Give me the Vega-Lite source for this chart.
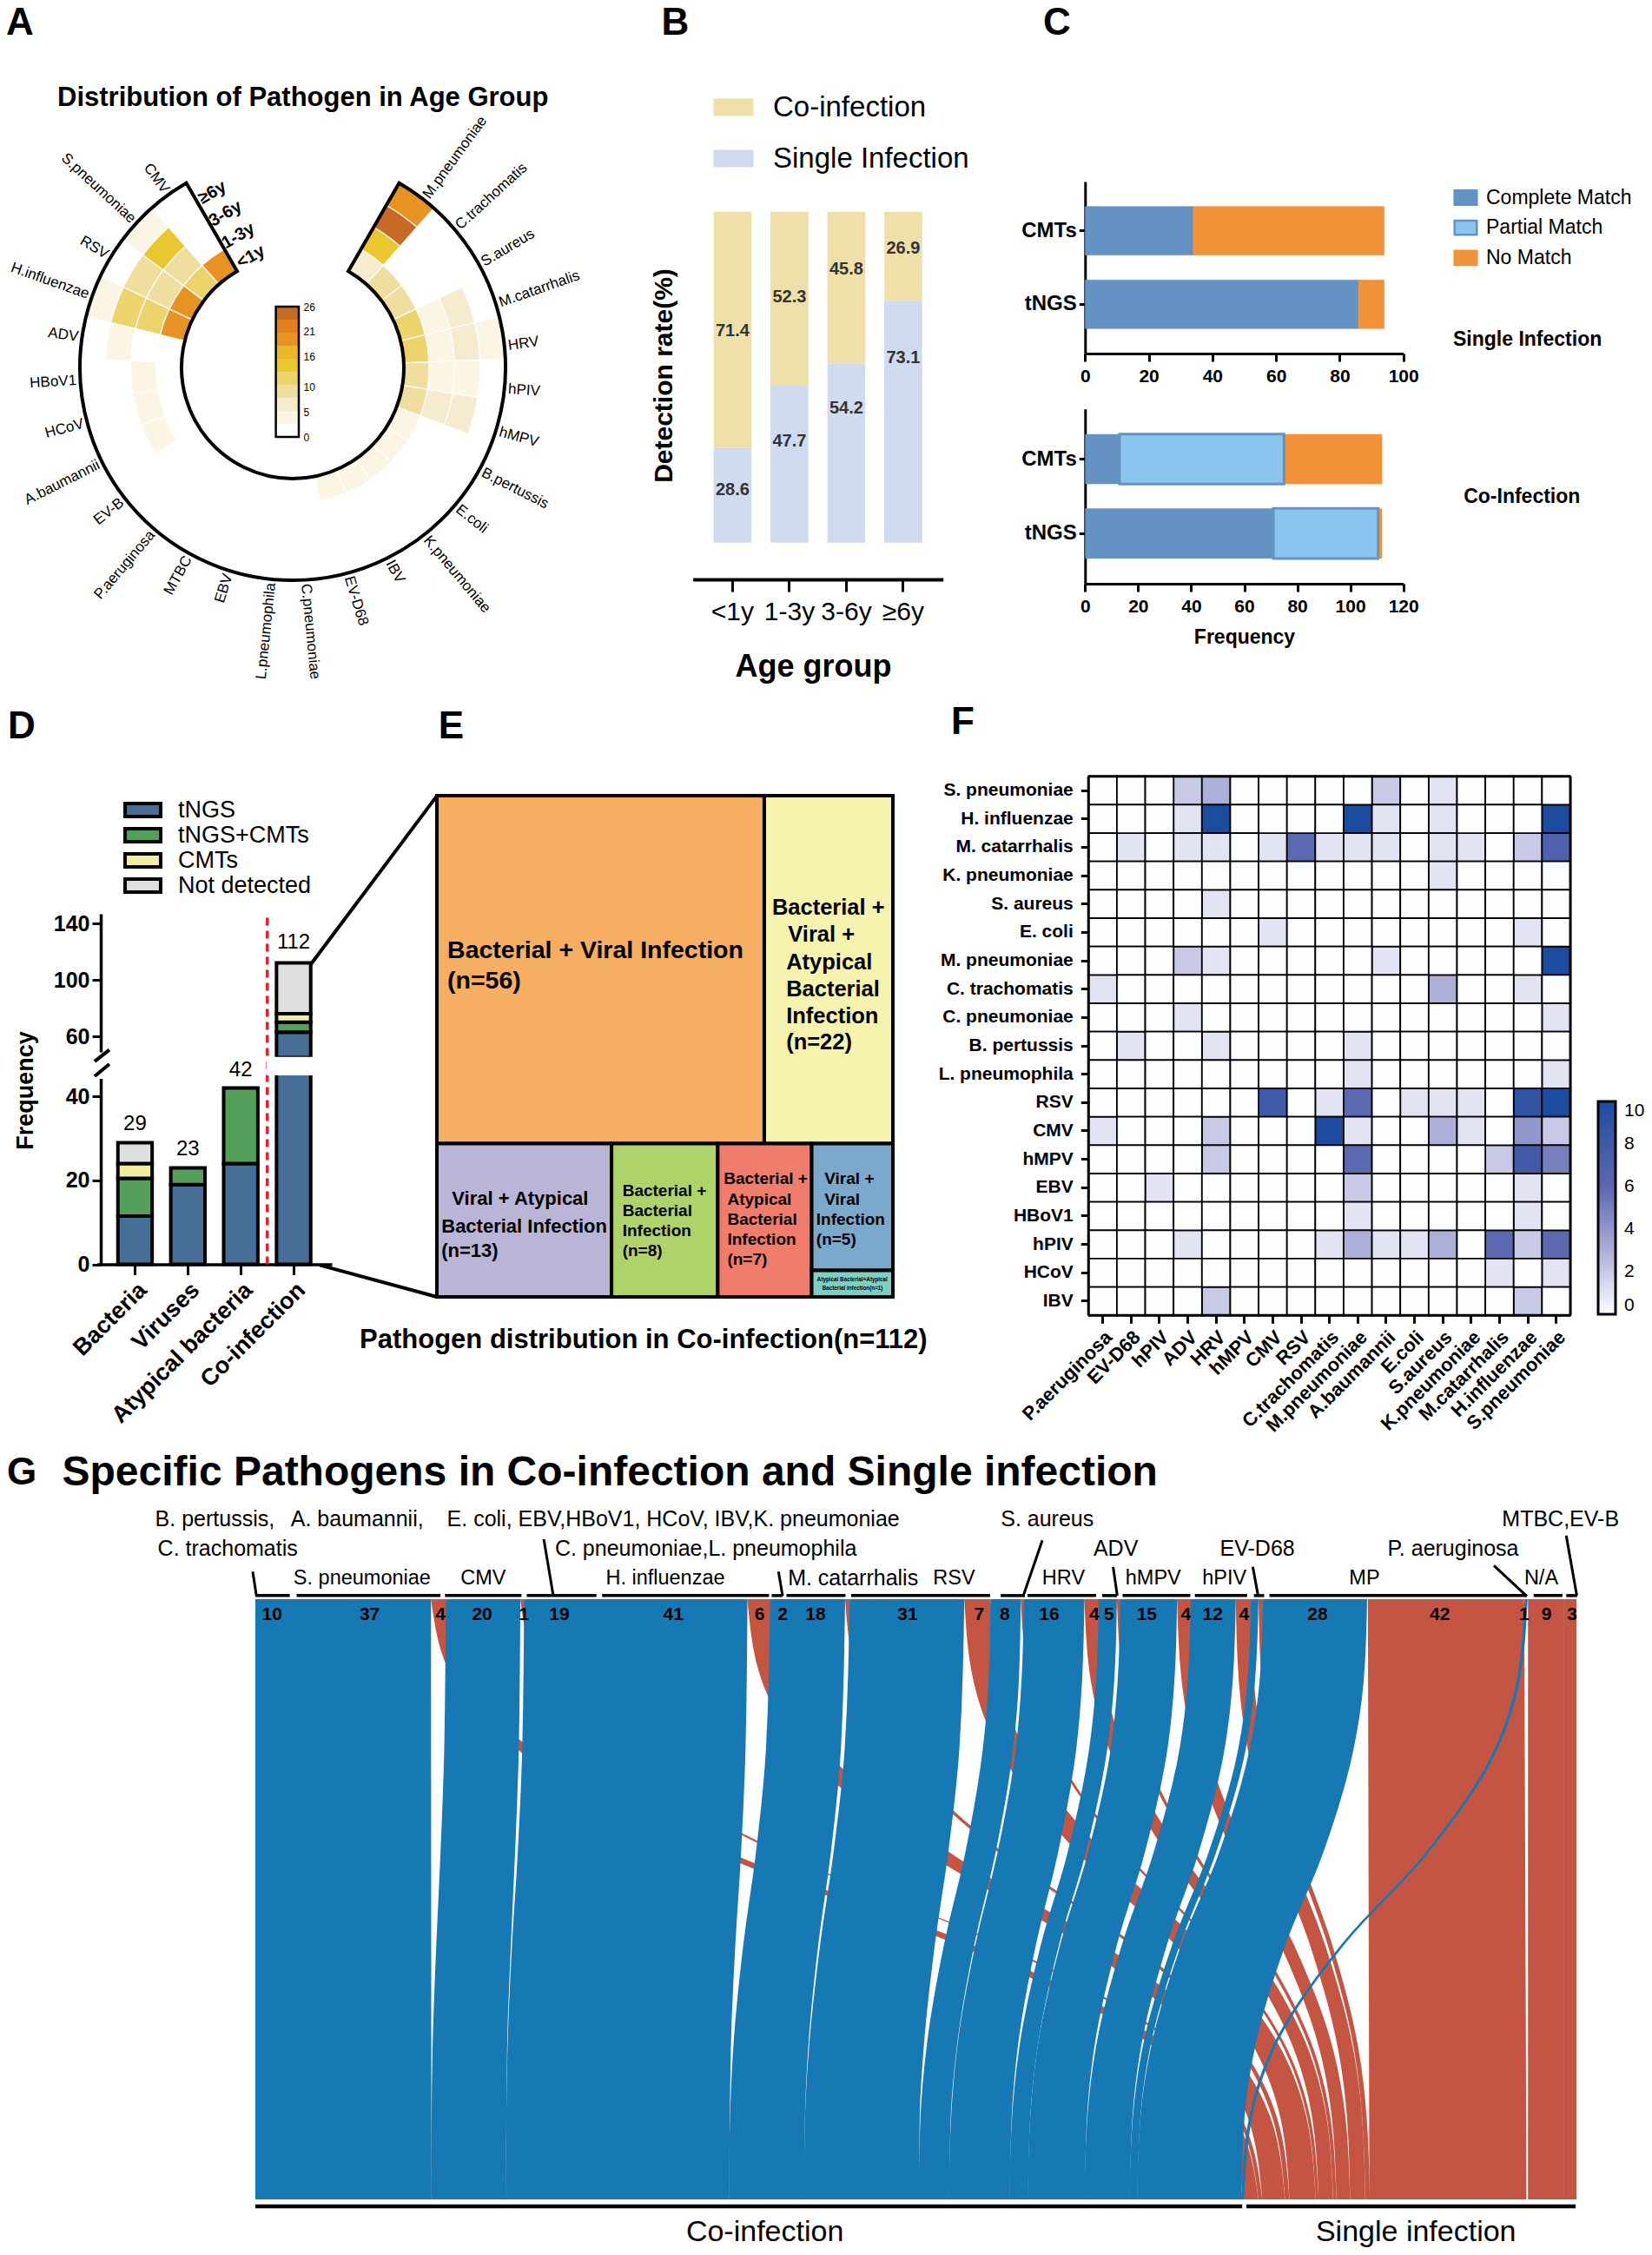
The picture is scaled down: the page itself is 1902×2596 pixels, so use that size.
{"$schema":"https://vega.github.io/schema/vega-lite/v6.json","width":1902,"height":2596,"padding":0,"autosize":{"type":"none"},"background":"white","config":{"font":"Liberation Sans","view":{"stroke":null},"axis":{"grid":false,"labelColor":"black","titleColor":"black","domainColor":"black","tickColor":"black","labelFlush":false,"labelLimit":500,"labelOverlap":false},"legend":{"labelColor":"black","labelLimit":500},"text":{"color":"black"}},
"resolve":{"scale":{"x":"independent","y":"independent","color":"independent","stroke":"independent"}},
"datasets":{
"sankey":[
{"f":"R1","g":"S","t":0,"x":46.4,"x2":50.3},{"f":"R1","g":"S","t":0.136,"x":52.4,"x2":56.3},{"f":"R1","g":"S","t":0.248,"x":68.7,"x2":72.6},{"f":"R1","g":"S","t":0.424,"x":122,"x2":125.9},{"f":"R1","g":"S","t":0.576,"x":185.5,"x2":189.4},{"f":"R1","g":"S","t":0.752,"x":238.8,"x2":242.7},{"f":"R1","g":"S","t":0.864,"x":255.1,"x2":259},{"f":"R1","g":"S","t":1,"x":261.1,"x2":265},
{"f":"R2","g":"S","t":0,"x":70,"x2":71},{"f":"R2","g":"S","t":0.136,"x":75.5,"x2":76.5},{"f":"R2","g":"S","t":0.248,"x":90.3,"x2":91.3},{"f":"R2","g":"S","t":0.424,"x":138.6,"x2":139.6},{"f":"R2","g":"S","t":0.576,"x":196.4,"x2":197.4},{"f":"R2","g":"S","t":0.752,"x":244.7,"x2":245.7},{"f":"R2","g":"S","t":0.864,"x":259.5,"x2":260.5},{"f":"R2","g":"S","t":1,"x":265,"x2":266},
{"f":"R3","g":"S","t":0,"x":130,"x2":136},{"f":"R3","g":"S","t":0.136,"x":133.8,"x2":139.8},{"f":"R3","g":"S","t":0.248,"x":144.1,"x2":150.1},{"f":"R3","g":"S","t":0.424,"x":177.9,"x2":183.9},{"f":"R3","g":"S","t":0.576,"x":218.1,"x2":224.1},{"f":"R3","g":"S","t":0.752,"x":251.9,"x2":257.9},{"f":"R3","g":"S","t":0.864,"x":262.2,"x2":268.2},{"f":"R3","g":"S","t":1,"x":266,"x2":272},
{"f":"R4","g":"S","t":0,"x":155.8,"x2":157},{"f":"R4","g":"S","t":0.136,"x":159.1,"x2":160.3},{"f":"R4","g":"S","t":0.248,"x":167.9,"x2":169.1},{"f":"R4","g":"S","t":0.424,"x":196.7,"x2":197.9},{"f":"R4","g":"S","t":0.576,"x":231.1,"x2":232.3},{"f":"R4","g":"S","t":0.752,"x":259.9,"x2":261.1},{"f":"R4","g":"S","t":0.864,"x":268.7,"x2":269.9},{"f":"R4","g":"S","t":1,"x":272,"x2":273.2},
{"f":"R5","g":"S","t":0,"x":187.3,"x2":194.2},{"f":"R5","g":"S","t":0.136,"x":189.7,"x2":196.6},{"f":"R5","g":"S","t":0.248,"x":196.2,"x2":203.1},{"f":"R5","g":"S","t":0.424,"x":217.5,"x2":224.4},{"f":"R5","g":"S","t":0.576,"x":243,"x2":249.9},{"f":"R5","g":"S","t":0.752,"x":264.3,"x2":271.2},{"f":"R5","g":"S","t":0.864,"x":270.8,"x2":277.7},{"f":"R5","g":"S","t":1,"x":273.2,"x2":280.1},
{"f":"R6","g":"S","t":0,"x":202.2,"x2":203},{"f":"R6","g":"S","t":0.136,"x":204.4,"x2":205.2},{"f":"R6","g":"S","t":0.248,"x":210.3,"x2":211.1},{"f":"R6","g":"S","t":0.424,"x":229.6,"x2":230.4},{"f":"R6","g":"S","t":0.576,"x":252.7,"x2":253.5},{"f":"R6","g":"S","t":0.752,"x":272,"x2":272.8},{"f":"R6","g":"S","t":0.864,"x":277.9,"x2":278.7},{"f":"R6","g":"S","t":1,"x":280.1,"x2":280.9},
{"f":"R7","g":"S","t":0,"x":219,"x2":222.8},{"f":"R7","g":"S","t":0.136,"x":220.7,"x2":224.5},{"f":"R7","g":"S","t":0.248,"x":225.4,"x2":229.2},{"f":"R7","g":"S","t":0.424,"x":240.8,"x2":244.6},{"f":"R7","g":"S","t":0.576,"x":259.1,"x2":262.9},{"f":"R7","g":"S","t":0.752,"x":274.5,"x2":278.3},{"f":"R7","g":"S","t":0.864,"x":279.2,"x2":283},{"f":"R7","g":"S","t":1,"x":280.9,"x2":284.7},
{"f":"R8","g":"S","t":0,"x":227.6,"x2":228.5},{"f":"R8","g":"S","t":0.136,"x":229.2,"x2":230.1},{"f":"R8","g":"S","t":0.248,"x":233.5,"x2":234.4},{"f":"R8","g":"S","t":0.424,"x":247.7,"x2":248.6},{"f":"R8","g":"S","t":0.576,"x":264.6,"x2":265.5},{"f":"R8","g":"S","t":0.752,"x":278.8,"x2":279.7},{"f":"R8","g":"S","t":0.864,"x":283.1,"x2":284},{"f":"R8","g":"S","t":1,"x":284.7,"x2":285.6},
{"f":"R9","g":"S","t":0,"x":243.5,"x2":247.1},{"f":"R9","g":"S","t":0.136,"x":244.7,"x2":248.3},{"f":"R9","g":"S","t":0.248,"x":247.9,"x2":251.5},{"f":"R9","g":"S","t":0.424,"x":258.3,"x2":261.9},{"f":"R9","g":"S","t":0.576,"x":270.8,"x2":274.4},{"f":"R9","g":"S","t":0.752,"x":281.2,"x2":284.8},{"f":"R9","g":"S","t":0.864,"x":284.4,"x2":288},{"f":"R9","g":"S","t":1,"x":285.6,"x2":289.2},
{"f":"R10","g":"S","t":0,"x":259,"x2":263},{"f":"R10","g":"S","t":0.136,"x":259.8,"x2":263.8},{"f":"R10","g":"S","t":0.248,"x":262.1,"x2":266.1},{"f":"R10","g":"S","t":0.424,"x":269.6,"x2":273.6},{"f":"R10","g":"S","t":0.576,"x":278.6,"x2":282.6},{"f":"R10","g":"S","t":0.752,"x":286.1,"x2":290.1},{"f":"R10","g":"S","t":0.864,"x":288.4,"x2":292.4},{"f":"R10","g":"S","t":1,"x":289.2,"x2":293.2},
{"f":"R11","g":"S","t":0,"x":265,"x2":266.2},{"f":"R11","g":"S","t":0.136,"x":265.8,"x2":267},{"f":"R11","g":"S","t":0.248,"x":267.9,"x2":269.1},{"f":"R11","g":"S","t":0.424,"x":274.9,"x2":276.1},{"f":"R11","g":"S","t":0.576,"x":283.3,"x2":284.5},{"f":"R11","g":"S","t":0.752,"x":290.3,"x2":291.5},{"f":"R11","g":"S","t":0.864,"x":292.4,"x2":293.6},{"f":"R11","g":"S","t":1,"x":293.2,"x2":294.4},
{"f":"R12","g":"S","t":0,"x":293.9,"x2":335.2},{"f":"R12","g":"S","t":1,"x":294.3,"x2":335.8},
{"f":"R13","g":"S","t":0,"x":336.2,"x2":345.7},{"f":"R13","g":"S","t":1,"x":336.2,"x2":345.7},
{"f":"R14","g":"S","t":0,"x":345.6,"x2":349},{"f":"R14","g":"S","t":1,"x":345.6,"x2":349},
{"f":"B1","g":"C","t":0,"x":0,"x2":46.4},{"f":"B1","g":"C","t":1,"x":0,"x2":46.5},
{"f":"B2","g":"C","t":0,"x":50.3,"x2":70},{"f":"B2","g":"C","t":0.248,"x":49.9,"x2":69.6},{"f":"B2","g":"C","t":0.424,"x":48.9,"x2":68.6},{"f":"B2","g":"C","t":0.576,"x":47.8,"x2":67.5},{"f":"B2","g":"C","t":0.752,"x":46.8,"x2":66.5},{"f":"B2","g":"C","t":1,"x":46.4,"x2":66.2},
{"f":"B3","g":"C","t":0,"x":71,"x2":130},{"f":"B3","g":"C","t":0.248,"x":70.5,"x2":129.5},{"f":"B3","g":"C","t":0.424,"x":69.3,"x2":128.3},{"f":"B3","g":"C","t":0.576,"x":67.8,"x2":126.8},{"f":"B3","g":"C","t":0.752,"x":66.6,"x2":125.6},{"f":"B3","g":"C","t":1,"x":66.1,"x2":125.2},
{"f":"B4","g":"C","t":0,"x":136,"x2":155.8},{"f":"B4","g":"C","t":0.248,"x":134.9,"x2":154.7},{"f":"B4","g":"C","t":0.424,"x":132.2,"x2":152},{"f":"B4","g":"C","t":0.576,"x":128.9,"x2":148.7},{"f":"B4","g":"C","t":0.752,"x":126.2,"x2":146},{"f":"B4","g":"C","t":0.864,"x":125.4,"x2":145.2},{"f":"B4","g":"C","t":1,"x":125.1,"x2":145},
{"f":"B5","g":"C","t":0,"x":157,"x2":187.3},{"f":"B5","g":"C","t":0.248,"x":155.7,"x2":186},{"f":"B5","g":"C","t":0.424,"x":152.7,"x2":183},{"f":"B5","g":"C","t":0.576,"x":149.2,"x2":179.5},{"f":"B5","g":"C","t":0.752,"x":146.2,"x2":176.5},{"f":"B5","g":"C","t":0.864,"x":145.2,"x2":175.5},{"f":"B5","g":"C","t":1,"x":144.9,"x2":175.3},
{"f":"B6","g":"C","t":0,"x":194.2,"x2":202.2},{"f":"B6","g":"C","t":0.136,"x":193.7,"x2":201.7},{"f":"B6","g":"C","t":0.248,"x":192.2,"x2":200.2},{"f":"B6","g":"C","t":0.424,"x":187.5,"x2":195.5},{"f":"B6","g":"C","t":0.576,"x":181.9,"x2":189.9},{"f":"B6","g":"C","t":0.752,"x":177.2,"x2":185.2},{"f":"B6","g":"C","t":0.864,"x":175.7,"x2":183.7},{"f":"B6","g":"C","t":1,"x":175.2,"x2":183.3},
{"f":"B7","g":"C","t":0,"x":203,"x2":219},{"f":"B7","g":"C","t":0.136,"x":202.4,"x2":218.4},{"f":"B7","g":"C","t":0.248,"x":200.9,"x2":216.9},{"f":"B7","g":"C","t":0.424,"x":196,"x2":212},{"f":"B7","g":"C","t":0.576,"x":190.2,"x2":206.2},{"f":"B7","g":"C","t":0.752,"x":185.3,"x2":201.3},{"f":"B7","g":"C","t":0.864,"x":183.8,"x2":199.8},{"f":"B7","g":"C","t":1,"x":183.2,"x2":199.3},
{"f":"B8","g":"C","t":0,"x":222.8,"x2":227.6},{"f":"B8","g":"C","t":0.136,"x":222.1,"x2":226.9},{"f":"B8","g":"C","t":0.248,"x":220.3,"x2":225.1},{"f":"B8","g":"C","t":0.424,"x":214.5,"x2":219.3},{"f":"B8","g":"C","t":0.576,"x":207.5,"x2":212.3},{"f":"B8","g":"C","t":0.752,"x":201.7,"x2":206.5},{"f":"B8","g":"C","t":0.864,"x":199.9,"x2":204.7},{"f":"B8","g":"C","t":1,"x":199.2,"x2":204.1},
{"f":"B9","g":"C","t":0,"x":228.5,"x2":243.5},{"f":"B9","g":"C","t":0.136,"x":227.8,"x2":242.8},{"f":"B9","g":"C","t":0.248,"x":226,"x2":241},{"f":"B9","g":"C","t":0.424,"x":219.9,"x2":234.9},{"f":"B9","g":"C","t":0.576,"x":212.6,"x2":227.6},{"f":"B9","g":"C","t":0.752,"x":206.5,"x2":221.5},{"f":"B9","g":"C","t":0.864,"x":204.7,"x2":219.7},{"f":"B9","g":"C","t":1,"x":204,"x2":219.1},
{"f":"B10","g":"C","t":0,"x":247.1,"x2":259},{"f":"B10","g":"C","t":0.136,"x":246.3,"x2":258.2},{"f":"B10","g":"C","t":0.248,"x":244.2,"x2":256.1},{"f":"B10","g":"C","t":0.424,"x":237.2,"x2":249.1},{"f":"B10","g":"C","t":0.576,"x":228.9,"x2":240.8},{"f":"B10","g":"C","t":0.752,"x":221.9,"x2":233.8},{"f":"B10","g":"C","t":0.864,"x":219.8,"x2":231.7},{"f":"B10","g":"C","t":1,"x":219,"x2":231},
{"f":"B11","g":"C","t":0,"x":263,"x2":265},{"f":"B11","g":"C","t":0.136,"x":262.1,"x2":264.1},{"f":"B11","g":"C","t":0.248,"x":259.7,"x2":261.7},{"f":"B11","g":"C","t":0.424,"x":251.7,"x2":253.7},{"f":"B11","g":"C","t":0.576,"x":242.2,"x2":244.2},{"f":"B11","g":"C","t":0.752,"x":234.2,"x2":236.2},{"f":"B11","g":"C","t":0.864,"x":231.8,"x2":233.8},{"f":"B11","g":"C","t":1,"x":230.9,"x2":233},
{"f":"B12","g":"C","t":0,"x":266.2,"x2":293.7},{"f":"B12","g":"C","t":0.136,"x":265.3,"x2":292.8},{"f":"B12","g":"C","t":0.248,"x":262.7,"x2":290.2},{"f":"B12","g":"C","t":0.424,"x":254.5,"x2":282},{"f":"B12","g":"C","t":0.576,"x":244.6,"x2":272.1},{"f":"B12","g":"C","t":0.752,"x":236.4,"x2":263.9},{"f":"B12","g":"C","t":0.864,"x":233.8,"x2":261.3},{"f":"B12","g":"C","t":1,"x":232.9,"x2":260.5},
{"f":"B13","g":"C","t":0,"x":335.3,"x2":336.1},{"f":"B13","g":"C","t":0.136,"x":333.2,"x2":334},{"f":"B13","g":"C","t":0.248,"x":327.5,"x2":328.3},{"f":"B13","g":"C","t":0.424,"x":308.9,"x2":309.7},{"f":"B13","g":"C","t":0.576,"x":286.8,"x2":287.6},{"f":"B13","g":"C","t":0.752,"x":268.2,"x2":269},{"f":"B13","g":"C","t":0.864,"x":262.5,"x2":263.3},{"f":"B13","g":"C","t":1,"x":260.4,"x2":261.2}
]},
"layer":[
{"layer":[
{"data":{"values":[
{"p":"M.pneumoniae","i":0,"i2":1,"r":0,"r2":1,"n":6},{"p":"M.pneumoniae","i":0,"i2":1,"r":1,"r2":2,"n":17},{"p":"M.pneumoniae","i":0,"i2":1,"r":2,"r2":3,"n":25},{"p":"M.pneumoniae","i":0,"i2":1,"r":3,"r2":4,"n":20},
{"p":"C.trachomatis","i":1,"i2":2,"r":0,"r2":1,"n":9},{"p":"S.aureus","i":2,"i2":3,"r":0,"r2":1,"n":9},
{"p":"M.catarrhalis","i":3,"i2":4,"r":0,"r2":1,"n":12},{"p":"M.catarrhalis","i":3,"i2":4,"r":1,"r2":2,"n":4},{"p":"M.catarrhalis","i":3,"i2":4,"r":2,"r2":3,"n":6},
{"p":"HRV","i":4,"i2":5,"r":0,"r2":1,"n":12},{"p":"HRV","i":4,"i2":5,"r":1,"r2":2,"n":4},{"p":"HRV","i":4,"i2":5,"r":2,"r2":3,"n":6},{"p":"HRV","i":4,"i2":5,"r":3,"r2":4,"n":4},
{"p":"hPIV","i":5,"i2":6,"r":0,"r2":1,"n":9},{"p":"hPIV","i":5,"i2":6,"r":1,"r2":2,"n":4},{"p":"hPIV","i":5,"i2":6,"r":2,"r2":3,"n":4},
{"p":"hMPV","i":6,"i2":7,"r":0,"r2":1,"n":9},{"p":"hMPV","i":6,"i2":7,"r":1,"r2":2,"n":6},{"p":"hMPV","i":6,"i2":7,"r":2,"r2":3,"n":6},
{"p":"B.pertussis","i":7,"i2":8,"r":0,"r2":1,"n":4},{"p":"E.coli","i":8,"i2":9,"r":0,"r2":1,"n":4},{"p":"K.pneumoniae","i":9,"i2":10,"r":0,"r2":1,"n":4},{"p":"IBV","i":10,"i2":11,"r":0,"r2":1,"n":4},{"p":"EV-D68","i":11,"i2":12,"r":0,"r2":1,"n":4},
{"p":"A.baumannii","i":18,"i2":19,"r":1,"r2":2,"n":4},{"p":"HCoV","i":19,"i2":20,"r":1,"r2":2,"n":4},{"p":"HBoV1","i":20,"i2":21,"r":1,"r2":2,"n":4},{"p":"ADV","i":21,"i2":22,"r":2,"r2":3,"n":4},
{"p":"H.influenzae","i":22,"i2":23,"r":0,"r2":1,"n":20},{"p":"H.influenzae","i":22,"i2":23,"r":1,"r2":2,"n":12},{"p":"H.influenzae","i":22,"i2":23,"r":2,"r2":3,"n":12},{"p":"H.influenzae","i":22,"i2":23,"r":3,"r2":4,"n":4},
{"p":"RSV","i":23,"i2":24,"r":0,"r2":1,"n":20},{"p":"RSV","i":23,"i2":24,"r":1,"r2":2,"n":9},{"p":"RSV","i":23,"i2":24,"r":2,"r2":3,"n":9},
{"p":"S.pneumoniae","i":24,"i2":25,"r":0,"r2":1,"n":12},{"p":"S.pneumoniae","i":24,"i2":25,"r":1,"r2":2,"n":9},{"p":"S.pneumoniae","i":24,"i2":25,"r":2,"r2":3,"n":17},{"p":"S.pneumoniae","i":24,"i2":25,"r":3,"r2":4,"n":4},
{"p":"CMV","i":25,"i2":26,"r":0,"r2":1,"n":20}]},
"mark":{"type":"arc","stroke":"white","strokeWidth":1.2},
"encoding":{"x":{"datum":0,"type":"quantitative","scale":{"domain":[-245,245],"range":[92,582],"nice":false},"axis":null},"y":{"datum":0,"type":"quantitative","scale":{"domain":[-245,245],"range":[178,668],"nice":false},"axis":null},
"theta":{"field":"i","type":"quantitative","stack":null,"scale":{"domain":[0,26],"range":[0.5236,5.7596]}},"theta2":{"field":"i2"},
"radius":{"field":"r","type":"quantitative","scale":{"type":"linear","domain":[0,4],"range":[128,245]}},"radius2":{"field":"r2"},
"color":{"field":"n","type":"quantitative","scale":{"type":"threshold","domain":[2.6,5.2,7.8,10.4,13,15.6,18.2,20.8,23.4],"range":["#FFFFFF","#FBF5E3","#F5ECCF","#EFDE9E","#EDD36C","#EAC72E","#EAC72E","#E79324","#E1801F","#C76A25"]},"legend":null}}},
{"data":{"values":[{"i":0,"i2":26,"r":0,"r2":4}]},
"mark":{"type":"arc","filled":false,"stroke":"black","strokeWidth":4},
"encoding":{"x":{"datum":0,"type":"quantitative"},"y":{"datum":0,"type":"quantitative"},"theta":{"field":"i","type":"quantitative","stack":null},"theta2":{"field":"i2"},"radius":{"field":"r","type":"quantitative"},"radius2":{"field":"r2"}}},
{"data":{"values":[{"p":"M.pneumoniae","m":0.7},{"p":"C.trachomatis","m":1.7},{"p":"S.aureus","m":2.7},{"p":"M.catarrhalis","m":3.7},{"p":"HRV","m":4.7},{"p":"hPIV","m":5.7},{"p":"hMPV","m":6.7},{"p":"B.pertussis","m":7.7},{"p":"E.coli","m":8.7},{"p":"K.pneumoniae","m":9.7},{"p":"IBV","m":10.7},{"p":"EV-D68","m":11.7},{"p":"C.pneumoniae","m":12.7}]},
"mark":{"type":"text","align":"left","baseline":"middle","fontSize":17},
"encoding":{"x":{"datum":0,"type":"quantitative"},"y":{"datum":0,"type":"quantitative"},"theta":{"field":"m","type":"quantitative","stack":null},"radius":{"datum":4.15,"type":"quantitative"},"text":{"field":"p"},"angle":{"field":"m","type":"quantitative","scale":{"domain":[0,26],"range":[-62,238]},"legend":null}}},
{"data":{"values":[{"p":"L.pneumophila","m":13.5},{"p":"EBV","m":14.5},{"p":"MTBC","m":15.5},{"p":"P.aeruginosa","m":16.5},{"p":"EV-B","m":17.5},{"p":"A.baumannii","m":18.5},{"p":"HCoV","m":19.5},{"p":"HBoV1","m":20.5},{"p":"ADV","m":21.5},{"p":"H.influenzae","m":22.5},{"p":"RSV","m":23.5},{"p":"S.pneumoniae","m":24.5},{"p":"CMV","m":25.5}]},
"mark":{"type":"text","align":"right","baseline":"middle","fontSize":17},
"encoding":{"x":{"datum":0,"type":"quantitative"},"y":{"datum":0,"type":"quantitative"},"theta":{"field":"m","type":"quantitative","stack":null},"radius":{"datum":4.15,"type":"quantitative"},"text":{"field":"p"},"angle":{"field":"m","type":"quantitative","scale":{"domain":[0,26],"range":[120,420]},"legend":null}}},
{"data":{"values":[{"a":"≥6y","m":26.46,"r":3.2},{"a":"3-6y","m":26.55,"r":2.23},{"a":"1-3y","m":26.65,"r":1.23},{"a":"<1y","m":26.8,"r":0.28}]},
"mark":{"type":"text","align":"center","baseline":"middle","fontSize":20,"fontWeight":"bold","angle":-30},
"encoding":{"x":{"datum":0,"type":"quantitative"},"y":{"datum":0,"type":"quantitative"},"theta":{"field":"m","type":"quantitative","stack":null},"radius":{"field":"r","type":"quantitative"},"text":{"field":"a"}}}
],"resolve":{"scale":{"angle":"independent"}}},
{"layer":[
{"data":{"values":[{"lo":0,"hi":2.6,"mid":1.3},{"lo":2.6,"hi":5.2,"mid":3.9},{"lo":5.2,"hi":7.8,"mid":6.5},{"lo":7.8,"hi":10.4,"mid":9.1},{"lo":10.4,"hi":13,"mid":11.7},{"lo":13,"hi":15.6,"mid":14.3},{"lo":15.6,"hi":18.2,"mid":16.9},{"lo":18.2,"hi":20.8,"mid":19.5},{"lo":20.8,"hi":23.4,"mid":22.1},{"lo":23.4,"hi":26,"mid":24.7}]},
"mark":"rect",
"encoding":{"x":{"datum":0,"type":"quantitative","scale":{"domain":[0,1],"range":[317.6,344],"nice":false},"axis":null},"x2":{"datum":1},"y":{"field":"lo","type":"quantitative","scale":{"domain":[0,26],"range":[503,353],"nice":false},"axis":{"orient":"right","offset":-1558,"values":[0,5,10,16,21,26],"format":"d","domain":false,"ticks":false,"labelFontSize":12,"labelPadding":5,"title":null}},"y2":{"field":"hi"},"color":{"field":"mid","type":"quantitative","scale":{"type":"threshold","domain":[2.6,5.2,7.8,10.4,13,15.6,18.2,20.8,23.4],"range":["#FFFFFF","#FBF5E3","#F5ECCF","#EFDE9E","#EDD36C","#EAC72E","#E9B62C","#E79324","#E1801F","#C76A25"]},"legend":null}}},
{"data":{"values":[{"lo":0,"hi":26}]},"mark":{"type":"rect","filled":false,"stroke":"black","strokeWidth":2.5},"encoding":{"x":{"datum":0,"type":"quantitative"},"x2":{"datum":1},"y":{"field":"lo","type":"quantitative"},"y2":{"field":"hi"}}}
]},
{"layer":[
{"data":{"values":[{"age":"<1y","type":"Single Infection","y0":0,"y1":28.6},{"age":"<1y","type":"Co-infection","y0":28.6,"y1":100},{"age":"1-3y","type":"Single Infection","y0":0,"y1":47.7},{"age":"1-3y","type":"Co-infection","y0":47.7,"y1":100},{"age":"3-6y","type":"Single Infection","y0":0,"y1":54.2},{"age":"3-6y","type":"Co-infection","y0":54.2,"y1":100},{"age":"≥6y","type":"Single Infection","y0":0,"y1":73.1},{"age":"≥6y","type":"Co-infection","y0":73.1,"y1":100}]},
"mark":"bar",
"encoding":{"x":{"field":"age","type":"nominal","scale":{"type":"band","domain":["<1y","1-3y","3-6y","≥6y"],"range":[797.7,1085.7],"paddingInner":0.333,"paddingOuter":0.365},"axis":{"orient":"bottom","offset":-1929,"labelAngle":0,"domainWidth":4,"tickWidth":3,"tickSize":14,"labelFontSize":30,"labelPadding":8,"title":"Age group","titleFontSize":36,"titleFontWeight":"bold","titleX":936,"titleY":100,"titleBaseline":"middle"}},
"y":{"field":"y0","type":"quantitative","scale":{"domain":[0,100],"range":[624.7,243.8],"nice":false},"axis":{"orient":"left","offset":-790,"domain":false,"ticks":false,"labels":false,"title":"Detection rate(%)","titleFontSize":30,"titleFontWeight":"bold","titleX":-11,"titleY":432}},"y2":{"field":"y1"},
"color":{"field":"type","type":"nominal","scale":{"domain":["Co-infection","Single Infection"],"range":["#EFE0AA","#CFDCEF"]},"legend":{"orient":"none","legendX":828,"legendY":107,"title":null,"symbolType":"M-2.3,-1H2.3V1H-2.3Z","symbolSize":400,"symbolStrokeWidth":0,"labelFontSize":33,"labelOffset":29,"rowPadding":25}}}},
{"data":{"values":[{"age":"<1y","v":"71.4","ly":63.9},{"age":"<1y","v":"28.6","ly":15.9},{"age":"1-3y","v":"52.3","ly":74.3},{"age":"1-3y","v":"47.7","ly":30.6},{"age":"3-6y","v":"45.8","ly":82.6},{"age":"3-6y","v":"54.2","ly":40.5},{"age":"≥6y","v":"26.9","ly":89},{"age":"≥6y","v":"73.1","ly":55.9}]},
"mark":{"type":"text","fontSize":20,"fontWeight":"bold","fill":"#333333","baseline":"middle"},
"encoding":{"x":{"field":"age","type":"nominal"},"y":{"field":"ly","type":"quantitative"},"text":{"field":"v"}}}
]},
{"data":{"values":[{"m":"CMTs","k":"Complete Match","a":0,"b":34},{"m":"CMTs","k":"No Match","a":34,"b":94},{"m":"tNGS","k":"Complete Match","a":0,"b":86},{"m":"tNGS","k":"No Match","a":86,"b":94}]},
"mark":{"type":"bar","strokeWidth":0.5},
"encoding":{"x":{"field":"a","type":"quantitative","scale":{"domain":[0,100],"range":[1249.3,1615.7],"nice":false},"axis":{"orient":"bottom","offset":-2189,"values":[0,20,40,60,80,100],"domainWidth":3,"tickWidth":3,"tickSize":9,"labelFontSize":21,"labelFontWeight":"bold","labelPadding":6,"title":null}},"x2":{"field":"b"},
"y":{"field":"m","type":"nominal","scale":{"type":"band","domain":["CMTs","tNGS"],"range":[209,407],"paddingInner":0.338,"paddingOuter":0.339},"axis":{"orient":"left","offset":-1249.3,"domainWidth":3,"tickWidth":3,"tickSize":7,"labelFontSize":24,"labelFontWeight":"bold","labelPadding":3,"title":null}},
"color":{"field":"k","type":"nominal","scale":{"domain":["Complete Match","Partial Match","No Match"],"range":["#6493C3","#89C5EC","#F29339"]},"legend":{"orient":"none","legendX":1676,"legendY":216,"title":null,"symbolType":"M-1.57,-1H1.57V1H-1.57Z","symbolSize":266,"symbolStrokeWidth":2.5,"labelFontSize":23,"labelOffset":12,"rowPadding":7.7}},
"stroke":{"field":"k","type":"nominal","scale":{"domain":["Complete Match","Partial Match","No Match"],"range":["#6493C3","#6493C3","#F29339"]},"legend":{"orient":"none","legendX":1676,"legendY":216,"title":null,"symbolType":"M-1.57,-1H1.57V1H-1.57Z","symbolSize":266,"symbolStrokeWidth":2.5,"labelFontSize":23,"labelOffset":12,"rowPadding":7.7}}}},
{"data":{"values":[{"m":"CMTs","k":"Complete Match","a":0,"b":13},{"m":"CMTs","k":"Partial Match","a":13,"b":75},{"m":"CMTs","k":"No Match","a":75,"b":112},{"m":"tNGS","k":"Complete Match","a":0,"b":71},{"m":"tNGS","k":"Partial Match","a":71,"b":110.5},{"m":"tNGS","k":"No Match","a":110.5,"b":112}]},
"layer":[{"mark":{"type":"bar"},
"encoding":{"x":{"field":"a","type":"quantitative","scale":{"domain":[0,120],"range":[1249.3,1615.7],"nice":false},"axis":{"orient":"bottom","offset":-1924,"values":[0,20,40,60,80,100,120],"domainWidth":3,"tickWidth":3,"tickSize":9,"labelFontSize":21,"labelFontWeight":"bold","labelPadding":6,"title":"Frequency","titleFontSize":23,"titleFontWeight":"bold","titleY":61,"titleBaseline":"middle"}},"x2":{"field":"b"},
"y":{"field":"m","type":"nominal","scale":{"type":"band","domain":["CMTs","tNGS"],"range":[470.7,672],"paddingInner":0.327,"paddingOuter":0.34},"axis":{"orient":"left","offset":-1249.3,"domainWidth":3,"tickWidth":3,"tickSize":7,"labelFontSize":24,"labelFontWeight":"bold","labelPadding":3,"title":null}},
"color":{"field":"k","type":"nominal","scale":{"domain":["Complete Match","Partial Match","No Match"],"range":["#6493C3","#89C5EC","#F29339"]},"legend":null}}},
{"transform":[{"filter":"datum.k==='Partial Match'"}],"mark":{"type":"bar","filled":false,"stroke":"#6493C3","strokeWidth":3},"encoding":{"x":{"field":"a","type":"quantitative"},"x2":{"field":"b"},"y":{"field":"m","type":"nominal"}}}]},
{"layer":[
{"data":{"values":[{"g":"Co-infection","k":"tNGS","a":45,"b":63},{"g":"Co-infection","k":"tNGS+CMTs","a":63,"b":70},{"g":"Co-infection","k":"CMTs","a":70,"b":76},{"g":"Co-infection","k":"Not detected","a":76,"b":112}]},
"mark":{"type":"bar","stroke":"black","strokeWidth":4},
"encoding":{"x":{"field":"g","type":"nominal","scale":{"type":"band","domain":["Bacteria","Viruses","Atypical bacteria","Co-infection"],"range":[111.5,382],"paddingInner":0.353,"paddingOuter":0.3985},"axis":null},
"y":{"field":"a","type":"quantitative","scale":{"domain":[49,146.8],"range":[1211,1052],"nice":false},"axis":{"orient":"left","offset":-116,"values":[60,100,140],"format":"d","domainWidth":3.5,"tickWidth":3,"tickSize":10,"labelFontSize":25,"labelFontWeight":"bold","labelPadding":3,"title":null}},"y2":{"field":"b"},
"color":{"field":"k","type":"nominal","scale":{"domain":["tNGS","tNGS+CMTs","CMTs","Not detected"],"range":["#466E96","#54A05A","#F3EE9E","#DFDFDF"]},"legend":null}}},
{"data":{"values":[{"g":"Co-infection","n":112}]},"mark":{"type":"text","fontSize":24,"dy":-24,"baseline":"middle"},"encoding":{"x":{"field":"g","type":"nominal"},"y":{"field":"n","type":"quantitative"},"text":{"field":"n"}}}
]},
{"layer":[
{"data":{"values":[{"g":"Bacteria","k":"tNGS","a":0,"b":11.5},{"g":"Bacteria","k":"tNGS+CMTs","a":11.5,"b":20.5},{"g":"Bacteria","k":"CMTs","a":20.5,"b":24},{"g":"Bacteria","k":"Not detected","a":24,"b":29},{"g":"Viruses","k":"tNGS","a":0,"b":19},{"g":"Viruses","k":"tNGS+CMTs","a":19,"b":23},{"g":"Atypical bacteria","k":"tNGS","a":0,"b":24},{"g":"Atypical bacteria","k":"tNGS+CMTs","a":24,"b":42},{"g":"Co-infection","k":"tNGS","a":0,"b":46}]},
"mark":{"type":"bar","stroke":"black","strokeWidth":4},
"encoding":{"x":{"field":"g","type":"nominal","scale":{"type":"band","domain":["Bacteria","Viruses","Atypical bacteria","Co-infection"],"range":[111.5,382],"paddingInner":0.353,"paddingOuter":0.3985},"axis":{"orient":"bottom","offset":-1140.5,"labelAngle":-45,"labelAlign":"right","labelBaseline":"top","domainWidth":3.5,"tickWidth":3,"tickSize":12,"labelFontSize":27,"labelFontWeight":"bold","labelPadding":4,"title":null}},
"y":{"field":"a","type":"quantitative","scale":{"domain":[0,44.3],"range":[1455.5,1241.5],"nice":false},"axis":{"orient":"left","offset":-116,"values":[0,20,40],"format":"d","domainWidth":3.5,"tickWidth":3,"tickSize":10,"labelFontSize":25,"labelFontWeight":"bold","labelPadding":3,"title":"Frequency","titleFontSize":27,"titleFontWeight":"bold","titleX":-73,"titleY":1255}},"y2":{"field":"b"},
"color":{"field":"k","type":"nominal","scale":{"domain":["tNGS","tNGS+CMTs","CMTs","Not detected"],"range":["#466E96","#54A05A","#F3EE9E","#DFDFDF"]},"legend":{"orient":"none","legendX":151,"legendY":919,"title":null,"symbolType":"M-2.73,-1H2.73V1H-2.73Z","symbolSize":225,"symbolStrokeColor":"black","symbolStrokeWidth":4,"labelFontSize":27,"labelOffset":27,"rowPadding":-2}}}},
{"data":{"values":[{"g":"Bacteria","n":29},{"g":"Viruses","n":23},{"g":"Atypical bacteria","n":42}]},"mark":{"type":"text","fontSize":24,"dy":-21,"baseline":"middle"},"encoding":{"x":{"field":"g","type":"nominal"},"y":{"field":"n","type":"quantitative"},"text":{"field":"n"}}},
{"data":{"values":[{"g":"Co-infection","a":0,"b":83.5}]},"mark":{"type":"rule","stroke":"#E8202A","strokeWidth":3.5,"strokeDash":[9,6]},"encoding":{"x":{"field":"g","type":"nominal","bandPosition":-0.27},"y":{"field":"a","type":"quantitative"},"y2":{"field":"b"}}},
{"data":{"values":[{"g":"Co-infection","a":45,"b":49.4}]},"mark":{"type":"bar","fill":"white","width":{"band":1.6}},"encoding":{"x":{"field":"g","type":"nominal"},"y":{"field":"a","type":"quantitative"},"y2":{"field":"b"}}}
]},
{"layer":[
{"data":{"values":[{"c":"Bacterial + Viral","a":0,"b":71.8,"p":0,"q":69.4},{"c":"Bacterial + Viral + Atypical","a":71.8,"b":100,"p":0,"q":69.4},{"c":"Viral + Atypical","a":0,"b":38.3,"p":69.4,"q":100},{"c":"Bacterial + Bacterial","a":38.3,"b":61.6,"p":69.4,"q":100},{"c":"Bacterial + Atypical","a":61.6,"b":82.2,"p":69.4,"q":100},{"c":"Viral + Viral","a":82.2,"b":100,"p":69.4,"q":94.7},{"c":"Atypical + Atypical","a":82.2,"b":100,"p":94.7,"q":100}]},
"mark":{"type":"rect","stroke":"black","strokeWidth":4},
"encoding":{"x":{"field":"a","type":"quantitative","scale":{"domain":[0,100],"range":[503,1028],"nice":false},"axis":null},"x2":{"field":"b"},"y":{"field":"p","type":"quantitative","scale":{"domain":[0,100],"range":[916,1493],"nice":false},"axis":null},"y2":{"field":"q"},
"color":{"field":"c","type":"nominal","scale":{"domain":["Bacterial + Viral","Bacterial + Viral + Atypical","Viral + Atypical","Bacterial + Bacterial","Bacterial + Atypical","Viral + Viral","Atypical + Atypical"],"range":["#F5AE62","#F5F3AE","#BAB5D6","#AED469","#F07C6C","#7BA9CB","#7DD0C1"]},"legend":null}}},
{"data":{"values":[{"s":"Bacterial + Viral Infection","a":2.3,"p":30.8},{"s":"(n=56)","a":2.3,"p":36.9}]},"mark":{"type":"text","align":"left","baseline":"middle","fontSize":28.5,"fontWeight":"bold"},"encoding":{"x":{"field":"a","type":"quantitative"},"y":{"field":"p","type":"quantitative"},"text":{"field":"s"}}},
{"data":{"values":[{"s":"Bacterial +","a":73.5,"p":22.4},{"s":"Viral +","a":77,"p":27.8},{"s":"Atypical","a":76.6,"p":33.3},{"s":"Bacterial","a":76.6,"p":38.6},{"s":"Infection","a":76.6,"p":44},{"s":"(n=22)","a":76.6,"p":49.2}]},"mark":{"type":"text","align":"left","baseline":"middle","fontSize":25.5,"fontWeight":"bold"},"encoding":{"x":{"field":"a","type":"quantitative"},"y":{"field":"p","type":"quantitative"},"text":{"field":"s"}}},
{"data":{"values":[{"s":"Viral + Atypical","a":3.3,"p":80.4},{"s":"Bacterial Infection","a":1,"p":86},{"s":"(n=13)","a":1,"p":90.8}]},"mark":{"type":"text","align":"left","baseline":"middle","fontSize":22,"fontWeight":"bold"},"encoding":{"x":{"field":"a","type":"quantitative"},"y":{"field":"p","type":"quantitative"},"text":{"field":"s"}}},
{"data":{"values":[{"s":"Bacterial +","a":40.7,"p":78.9},{"s":"Bacterial","a":40.7,"p":82.8},{"s":"Infection","a":40.7,"p":86.8},{"s":"(n=8)","a":40.7,"p":90.9},{"s":"Bacterial +","a":62.9,"p":76.4},{"s":"Atypical","a":63.7,"p":80.6},{"s":"Bacterial","a":63.7,"p":84.6},{"s":"Infection","a":63.7,"p":88.6},{"s":"(n=7)","a":63.7,"p":92.6},{"s":"Viral +","a":85,"p":76.4},{"s":"Viral","a":85,"p":80.6},{"s":"Infection","a":83.2,"p":84.6},{"s":"(n=5)","a":83.2,"p":88.6}]},"mark":{"type":"text","align":"left","baseline":"middle","fontSize":19,"fontWeight":"bold"},"encoding":{"x":{"field":"a","type":"quantitative"},"y":{"field":"p","type":"quantitative"},"text":{"field":"s"}}},
{"data":{"values":[{"s":"Atypical Bacterial+Atypical","a":83.4,"p":96.5},{"s":"Bacterial Infection(n=1)","a":84.5,"p":98.3}]},"mark":{"type":"text","align":"left","baseline":"middle","fontSize":6.3,"fontWeight":"bold"},"encoding":{"x":{"field":"a","type":"quantitative"},"y":{"field":"p","type":"quantitative"},"text":{"field":"s"}}}
]},
{"data":{"values":[
{"r":"S. pneumoniae","c":"ADV","v":2},{"r":"S. pneumoniae","c":"HRV","v":3},{"r":"S. pneumoniae","c":"A.baumannii","v":2},{"r":"S. pneumoniae","c":"S.aureus","v":1},
{"r":"H. influenzae","c":"ADV","v":1},{"r":"H. influenzae","c":"HRV","v":10},{"r":"H. influenzae","c":"M.pneumoniae","v":10},{"r":"H. influenzae","c":"A.baumannii","v":1},{"r":"H. influenzae","c":"S.aureus","v":1},{"r":"H. influenzae","c":"S.pneumoniae","v":10},
{"r":"M. catarrhalis","c":"EV-D68","v":1},{"r":"M. catarrhalis","c":"ADV","v":1},{"r":"M. catarrhalis","c":"HRV","v":1},{"r":"M. catarrhalis","c":"CMV","v":1},{"r":"M. catarrhalis","c":"RSV","v":6},{"r":"M. catarrhalis","c":"C.trachomatis","v":1},{"r":"M. catarrhalis","c":"M.pneumoniae","v":1},{"r":"M. catarrhalis","c":"A.baumannii","v":1},{"r":"M. catarrhalis","c":"S.aureus","v":1},{"r":"M. catarrhalis","c":"K.pneumoniae","v":1},{"r":"M. catarrhalis","c":"H.influenzae","v":2},{"r":"M. catarrhalis","c":"S.pneumoniae","v":7},
{"r":"K. pneumoniae","c":"S.aureus","v":1},{"r":"S. aureus","c":"HRV","v":1},{"r":"E. coli","c":"CMV","v":1},{"r":"E. coli","c":"H.influenzae","v":1},
{"r":"M. pneumoniae","c":"ADV","v":2},{"r":"M. pneumoniae","c":"HRV","v":1},{"r":"M. pneumoniae","c":"A.baumannii","v":1},{"r":"M. pneumoniae","c":"S.pneumoniae","v":10},
{"r":"C. trachomatis","c":"P.aeruginosa","v":1},{"r":"C. trachomatis","c":"S.aureus","v":3},{"r":"C. trachomatis","c":"H.influenzae","v":1},
{"r":"C. pneumoniae","c":"ADV","v":1},{"r":"C. pneumoniae","c":"S.pneumoniae","v":1},
{"r":"B. pertussis","c":"EV-D68","v":1},{"r":"B. pertussis","c":"HRV","v":1},{"r":"B. pertussis","c":"M.pneumoniae","v":1},
{"r":"L. pneumophila","c":"M.pneumoniae","v":1},{"r":"L. pneumophila","c":"S.pneumoniae","v":1},
{"r":"RSV","c":"CMV","v":8},{"r":"RSV","c":"C.trachomatis","v":1},{"r":"RSV","c":"M.pneumoniae","v":6},{"r":"RSV","c":"E.coli","v":1},{"r":"RSV","c":"S.aureus","v":1},{"r":"RSV","c":"K.pneumoniae","v":1},{"r":"RSV","c":"H.influenzae","v":9},{"r":"RSV","c":"S.pneumoniae","v":10},
{"r":"CMV","c":"P.aeruginosa","v":1},{"r":"CMV","c":"HRV","v":2},{"r":"CMV","c":"C.trachomatis","v":10},{"r":"CMV","c":"M.pneumoniae","v":1},{"r":"CMV","c":"S.aureus","v":3},{"r":"CMV","c":"K.pneumoniae","v":1},{"r":"CMV","c":"H.influenzae","v":4},{"r":"CMV","c":"S.pneumoniae","v":2},
{"r":"hMPV","c":"HRV","v":2},{"r":"hMPV","c":"M.pneumoniae","v":6},{"r":"hMPV","c":"M.catarrhalis","v":2},{"r":"hMPV","c":"H.influenzae","v":8},{"r":"hMPV","c":"S.pneumoniae","v":5},
{"r":"EBV","c":"hPIV","v":1},{"r":"EBV","c":"M.pneumoniae","v":2},{"r":"EBV","c":"H.influenzae","v":1},
{"r":"HBoV1","c":"M.pneumoniae","v":1},{"r":"HBoV1","c":"H.influenzae","v":1},
{"r":"hPIV","c":"ADV","v":1},{"r":"hPIV","c":"C.trachomatis","v":1},{"r":"hPIV","c":"M.pneumoniae","v":3},{"r":"hPIV","c":"A.baumannii","v":1},{"r":"hPIV","c":"E.coli","v":1},{"r":"hPIV","c":"S.aureus","v":3},{"r":"hPIV","c":"M.catarrhalis","v":6},{"r":"hPIV","c":"H.influenzae","v":2},{"r":"hPIV","c":"S.pneumoniae","v":6},
{"r":"HCoV","c":"M.catarrhalis","v":1},{"r":"HCoV","c":"S.pneumoniae","v":1},
{"r":"IBV","c":"HRV","v":2},{"r":"IBV","c":"H.influenzae","v":2}]},
"transform":[{"impute":"v","key":"c","value":0,"groupby":["r"],"keyvals":["P.aeruginosa","EV-D68","hPIV","ADV","HRV","hMPV","CMV","RSV","C.trachomatis","M.pneumoniae","A.baumannii","E.coli","S.aureus","K.pneumoniae","M.catarrhalis","H.influenzae","S.pneumoniae"]}],
"mark":{"type":"rect","stroke":"black","strokeWidth":1.8},
"encoding":{"x":{"field":"c","type":"nominal","scale":{"type":"band","domain":["P.aeruginosa","EV-D68","hPIV","ADV","HRV","hMPV","CMV","RSV","C.trachomatis","M.pneumoniae","A.baumannii","E.coli","S.aureus","K.pneumoniae","M.catarrhalis","H.influenzae","S.pneumoniae"],"range":[1253.3,1808],"padding":0},"axis":{"orient":"bottom","offset":-1081.7,"labelAngle":-45,"labelAlign":"right","labelBaseline":"top","domain":false,"tickWidth":3,"tickSize":9,"labelFontSize":22,"labelFontWeight":"bold","labelPadding":5,"title":null}},
"y":{"field":"r","type":"nominal","scale":{"type":"band","domain":["S. pneumoniae","H. influenzae","M. catarrhalis","K. pneumoniae","S. aureus","E. coli","M. pneumoniae","C. trachomatis","C. pneumoniae","B. pertussis","L. pneumophila","RSV","CMV","hMPV","EBV","HBoV1","hPIV","HCoV","IBV"],"range":[893.7,1514.3],"padding":0},"axis":{"orient":"left","offset":-1253.3,"domain":false,"tickWidth":3,"tickSize":9,"labelFontSize":21,"labelFontWeight":"bold","labelPadding":9,"title":null}},
"color":{"field":"v","type":"quantitative","scale":{"domain":[0,1,3,6,10],"range":["#FFFFFF","#E3E4F3","#ACAFD8","#5A69B0","#1C4CA0"]},"legend":{"orient":"none","legendX":1840,"legendY":1268,"title":null,"type":"gradient","direction":"vertical","gradientLength":245,"gradientThickness":20,"gradientStrokeColor":"black","gradientStrokeWidth":3,"labelFontSize":21,"values":[0,2,4,6,8,10],"labelOffset":10}}}},
{"layer":[
{"data":{"name":"sankey"},"transform":[{"filter":"datum.g==='S'"}],"mark":{"type":"area","orient":"horizontal","interpolate":"monotone"},
"encoding":{"x":{"field":"x","type":"quantitative","scale":{"domain":[0,349],"range":[294,1815],"nice":false},"axis":null},"x2":{"field":"x2"},"y":{"field":"t","type":"quantitative","scale":{"domain":[0,1],"range":[1841,2532],"nice":false},"axis":null},"detail":{"field":"f"},"color":{"field":"g","type":"nominal","scale":{"domain":["C","S"],"range":["#1779B4","#C55543"]},"legend":null}}},
{"data":{"name":"sankey"},"transform":[{"filter":"datum.g==='C'"}],"mark":{"type":"area","orient":"horizontal","interpolate":"monotone"},
"encoding":{"x":{"field":"x","type":"quantitative"},"x2":{"field":"x2"},"y":{"field":"t","type":"quantitative"},"detail":{"field":"f"},"color":{"field":"g","type":"nominal"}}},
{"data":{"values":[{"n":"10","x":4.4},{"n":"37","x":30.2},{"n":"4","x":48.9},{"n":"20","x":59.9},{"n":"1","x":71},{"n":"19","x":80.3},{"n":"41","x":110.4},{"n":"6","x":133.2},{"n":"2","x":139.3},{"n":"18","x":148},{"n":"31","x":172.3},{"n":"7","x":191.2},{"n":"8","x":198},{"n":"16","x":209.7},{"n":"4","x":221.6},{"n":"5","x":225.5},{"n":"15","x":235.5},{"n":"4","x":245.8},{"n":"12","x":252.9},{"n":"4","x":261.2},{"n":"28","x":280.6},{"n":"42","x":312.9},{"n":"1","x":335.2},{"n":"9","x":341.1},{"n":"3","x":347.9}]},
"mark":{"type":"text","fontSize":21,"fontWeight":"bold","baseline":"middle"},"encoding":{"x":{"field":"x","type":"quantitative"},"y":{"datum":0.026,"type":"quantitative"},"text":{"field":"n"}}},
{"data":{"values":[{"a":0,"b":9.1},{"a":10.9,"b":48.9},{"a":50.1,"b":70.3},{"a":71.7,"b":90.1},{"a":91.6,"b":135.7},{"a":136.4,"b":139.2},{"a":140.3,"b":155.9},{"a":157.4,"b":194.1},{"a":196.9,"b":203.3},{"a":204,"b":222.1},{"a":223.7,"b":227.6},{"a":229.1,"b":247},{"a":248.2,"b":262},{"a":263.8,"b":266.5},{"a":267.9,"b":335.9},{"a":337.7,"b":345.3},{"a":346.3,"b":349.2}]},
"mark":{"type":"rule","strokeWidth":3.5,"stroke":"black"},"encoding":{"x":{"field":"a","type":"quantitative"},"x2":{"field":"b"},"y":{"datum":-0.006,"type":"quantitative"}}},
{"data":{"values":[{"a":-0.7,"b":0.3,"p":-0.046,"q":-0.005},{"a":76.2,"b":78.7,"p":-0.1,"q":-0.006},{"a":138.2,"b":139.3,"p":-0.046,"q":-0.005},{"a":207.9,"b":202.9,"p":-0.098,"q":-0.006},{"a":226.6,"b":227.7,"p":-0.054,"q":-0.006},{"a":263.5,"b":264.9,"p":-0.054,"q":-0.006},{"a":327.2,"b":335.9,"p":-0.056,"q":-0.005},{"a":346.3,"b":349.1,"p":-0.106,"q":-0.006}]},
"mark":{"type":"rule","strokeWidth":3,"stroke":"black"},"encoding":{"x":{"field":"a","type":"quantitative"},"x2":{"field":"b"},"y":{"field":"p","type":"quantitative"},"y2":{"field":"q"}}},
{"data":{"values":[{"a":0,"b":260.7},{"a":261.8,"b":348.8}]},"mark":{"type":"rule","strokeWidth":4.5,"stroke":"black"},"encoding":{"x":{"field":"a","type":"quantitative"},"x2":{"field":"b"},"y":{"datum":1.0115,"type":"quantitative"}}},
{"data":{"values":[{"s":"S. pneumoniae","a":28.2,"p":-0.035},{"s":"CMV","a":60.2,"p":-0.035},{"s":"H. influenzae","a":108.3,"p":-0.035},{"s":"RSV","a":184.6,"p":-0.035},{"s":"HRV","a":213.5,"p":-0.035},{"s":"hMPV","a":237.2,"p":-0.035},{"s":"hPIV","a":256,"p":-0.035},{"s":"MP","a":293,"p":-0.035},{"s":"N/A","a":339.7,"p":-0.035}]},
"mark":{"type":"text","fontSize":23.5,"baseline":"middle"},"encoding":{"x":{"field":"a","type":"quantitative"},"y":{"field":"p","type":"quantitative"},"text":{"field":"s"}}},
{"data":{"values":[{"s":"M. catarrhalis","a":157.9,"p":-0.035},{"s":"C. trachomatis","a":-7.3,"p":-0.0839},{"s":"C. pneumoniae,L. pneumophila","a":119,"p":-0.0839},{"s":"ADV","a":227.3,"p":-0.0839},{"s":"EV-D68","a":264.7,"p":-0.0839},{"s":"P. aeruginosa","a":316.4,"p":-0.0839},{"s":"B. pertussis,","a":-10.7,"p":-0.133},{"s":"A. baumannii,","a":26.9,"p":-0.133},{"s":"E. coli, EBV,HBoV1, HCoV, IBV,K. pneumoniae","a":110.4,"p":-0.133},{"s":"S. aureus","a":209.2,"p":-0.133},{"s":"MTBC,EV-B","a":344.8,"p":-0.133}]},
"mark":{"type":"text","fontSize":25,"baseline":"middle"},"encoding":{"x":{"field":"a","type":"quantitative"},"y":{"field":"p","type":"quantitative"},"text":{"field":"s"}}},
{"data":{"values":[{"s":"Co-infection","a":134.6},{"s":"Single infection","a":306.6}]},"mark":{"type":"text","fontSize":34,"baseline":"middle"},"encoding":{"x":{"field":"a","type":"quantitative"},"y":{"datum":1.055,"type":"quantitative"},"text":{"field":"s"}}}
]},
{"layer":[
{"data":{"values":[{"s":"A","x":0.37,"y":1.05},{"s":"B","x":40.04,"y":1.05},{"s":"C","x":63.15,"y":1.05},{"s":"D","x":0.47,"y":32.25},{"s":"E","x":26.54,"y":32.25},{"s":"F","x":57.57,"y":32.05},{"s":"G","x":0.42,"y":65.33}]},
"mark":{"type":"text","align":"left","baseline":"middle","fontSize":44,"fontWeight":"bold"},
"encoding":{"x":{"field":"x","type":"quantitative","scale":{"domain":[0,100],"range":[0,1902],"nice":false},"axis":null},"y":{"field":"y","type":"quantitative","scale":{"domain":[0,100],"range":[0,2596],"nice":false},"axis":null},"text":{"field":"s"}}},
{"data":{"values":[{"s":"Specific Pathogens in Co-infection and Single infection","x":3.76,"y":65.33}]},"mark":{"type":"text","align":"left","baseline":"middle","fontSize":48,"fontWeight":"bold"},"encoding":{"x":{"field":"x","type":"quantitative"},"y":{"field":"y","type":"quantitative"},"text":{"field":"s"}}},
{"data":{"values":[{"s":"Distribution of Pathogen in Age Group","x":3.47,"y":4.36}]},"mark":{"type":"text","align":"left","baseline":"middle","fontSize":31,"fontWeight":"bold"},"encoding":{"x":{"field":"x","type":"quantitative"},"y":{"field":"y","type":"quantitative"},"text":{"field":"s"}}},
{"data":{"values":[{"s":"Pathogen distribution in Co-infection(n=112)","x":21.77,"y":59.42}]},"mark":{"type":"text","align":"left","baseline":"middle","fontSize":31,"fontWeight":"bold"},"encoding":{"x":{"field":"x","type":"quantitative"},"y":{"field":"y","type":"quantitative"},"text":{"field":"s"}}},
{"data":{"values":[{"s":"Single Infection","x":87.96,"y":15.05},{"s":"Co-Infection","x":88.6,"y":22.03}]},"mark":{"type":"text","align":"left","baseline":"middle","fontSize":23,"fontWeight":"bold"},"encoding":{"x":{"field":"x","type":"quantitative"},"y":{"field":"y","type":"quantitative"},"text":{"field":"s"}}},
{"data":{"values":[{"x":5.73,"x2":6.62,"y":47.07,"y2":46.56},{"x":5.73,"x2":6.62,"y":47.73,"y2":47.19},{"x":18.82,"x2":26.45,"y":42.76,"y2":35.29},{"x":19.35,"x2":26.45,"y":56.1,"y2":57.51}]},"mark":{"type":"rule","stroke":"black","strokeWidth":4},"encoding":{"x":{"field":"x","type":"quantitative"},"x2":{"field":"x2"},"y":{"field":"y","type":"quantitative"},"y2":{"field":"y2"}}},
{"data":{"values":[{"x":65.89,"x2":95.06,"y":34.43,"y2":34.43},{"x":65.89,"x2":95.06,"y":58.33,"y2":58.33},{"x":65.89,"x2":65.89,"y":34.43,"y2":58.33},{"x":95.06,"x2":95.06,"y":34.43,"y2":58.33}]},"mark":{"type":"rule","stroke":"black","strokeWidth":3},"encoding":{"x":{"field":"x","type":"quantitative"},"x2":{"field":"x2"},"y":{"field":"y","type":"quantitative"},"y2":{"field":"y2"}}},
{"data":{"values":[{"x":96.74,"x2":97.79,"y":56.39},{"x":96.74,"x2":97.79,"y":54.51},{"x":96.74,"x2":97.79,"y":52.62},{"x":96.74,"x2":97.79,"y":50.73}]},"mark":{"type":"rule","stroke":"black","strokeWidth":2.5,"strokeDash":[8,4]},"encoding":{"x":{"field":"x","type":"quantitative"},"x2":{"field":"x2"},"y":{"field":"y","type":"quantitative"}}}
]}
]}
